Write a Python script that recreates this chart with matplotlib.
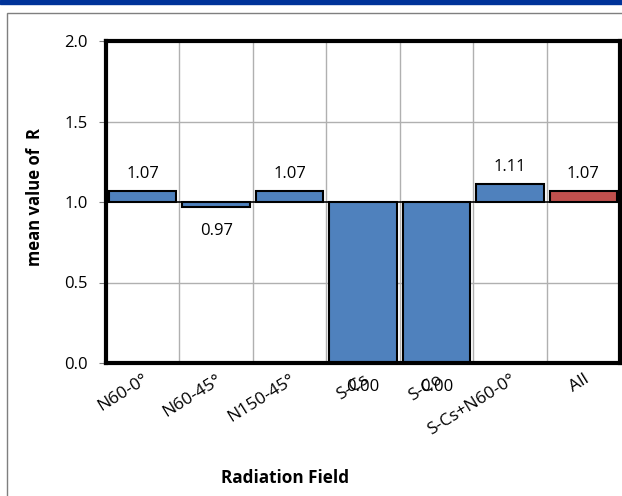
import matplotlib.pyplot as plt
from matplotlib.patches import Rectangle

fields = ['N60-0°', 'N60-45°', 'N150-45°', 'S-Cs', 'S-Co', 'S-Cs+N60-0°', 'All']
mean_r = [1.07, 0.97, 1.07, 0.00, 0.00, 1.11, 1.07]
labels = ['1.07', '0.97', '1.07', '0.00', '0.00', '1.11', '1.07']
colors = ['#4F81BD'] * 6 + ['#C0504D']

plt.rcParams['font.family'] = ['Open Sans', 'DejaVu Sans']

fig = plt.figure(figsize=(6.22, 4.96), dpi=100)

# blue stripe on top and grey outer frame
fig.patches.append(Rectangle((0, 1 - 4 / 496), 1, 4 / 496, transform=fig.transFigure,
                             color='#003399', zorder=0))
fig.patches.append(Rectangle((7 / 622, -0.1), 1.2, 1 - 13 / 496 + 0.1, transform=fig.transFigure,
                             fill=False, edgecolor='#7f7f7f', lw=1, zorder=0))

ax = fig.add_axes([106 / 622, 1 - 363 / 496, 514 / 622, 322 / 496])

x = list(range(len(fields)))
heights = [v - 1 for v in mean_r]
ax.bar(x, heights, bottom=1, width=0.92, color=colors, edgecolor='black', lw=1.5, zorder=3)
ax.axhline(1.0, color='black', lw=1.2, zorder=2)

# data labels, offsets in pixels converted to points
px = 72 / 100
for i, v in enumerate(mean_r):
    if v >= 1:
        ax.annotate(labels[i], (i, v), xytext=(0, 13 * px), textcoords='offset points',
                    ha='center', va='baseline', fontsize=12)
    else:
        ax.annotate(labels[i], (i, v), xytext=(0, -28 * px), textcoords='offset points',
                    ha='center', va='baseline', fontsize=12)

ax.set_xlim(-0.5, len(fields) - 0.5)
ax.set_ylim(0, 2.0)
ax.set_yticks([0, 0.5, 1.0, 1.5, 2.0])
ax.set_yticklabels(['0.0', '0.5', '1.0', '1.5', '2.0'], fontsize=12)
ax.set_xticks(x)
ax.set_xticklabels(fields, rotation=32, ha='right', rotation_mode='anchor', fontsize=12.5)
ax.tick_params(axis='x', length=0, pad=6)
ax.tick_params(axis='y', length=5, color='#808080', pad=8)

# grid
for b in [i + 0.5 for i in range(len(fields) - 1)]:
    ax.axvline(b, color='#b0b0b0', lw=1, zorder=1)
for yv in [0.5, 1.5]:
    ax.axhline(yv, color='#b0b0b0', lw=1, zorder=1)

for s in ax.spines.values():
    s.set_linewidth(3)
    s.set_color('black')
    s.set_zorder(4)

ax.set_ylabel('mean value of  R', fontsize=12, fontweight='bold', va='center')
ax.yaxis.set_label_coords(-71 / 514, 166 / 322)
ax.set_xlabel('Radiation Field', fontsize=12.3, fontweight='bold', va='center')
ax.xaxis.set_label_coords(179 / 514, -115 / 322)

fig.savefig('out.png', dpi=100)
